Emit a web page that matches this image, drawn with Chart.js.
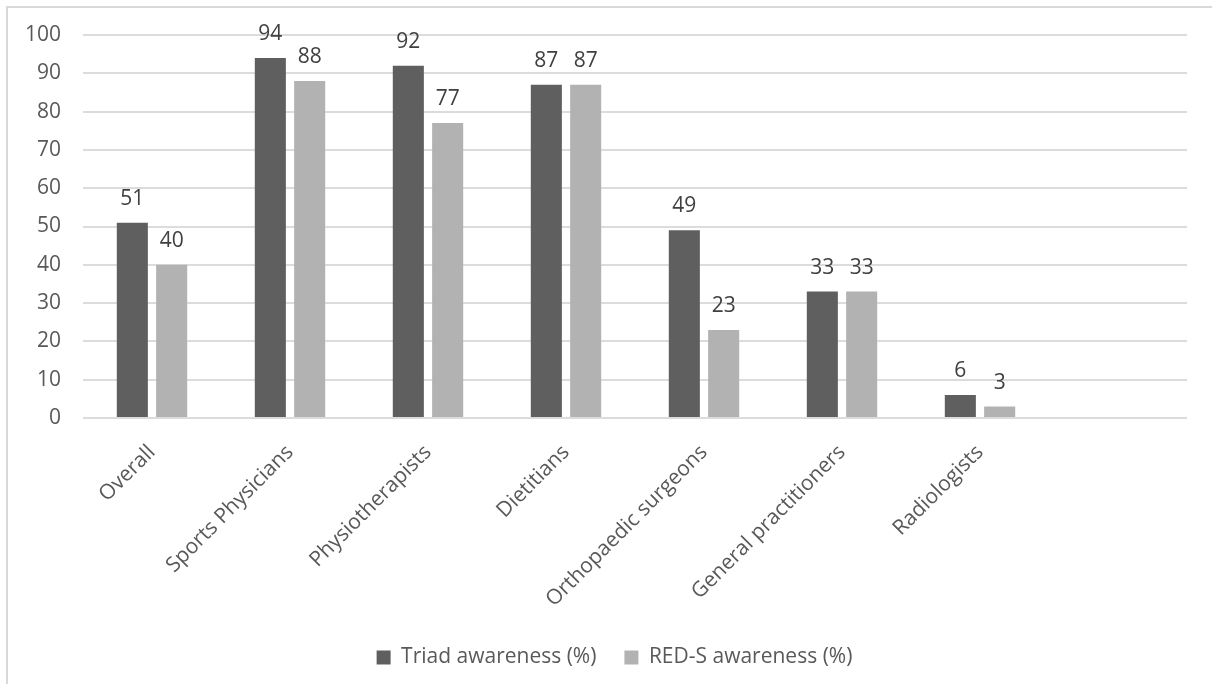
<!DOCTYPE html>
<html>
<head>
<meta charset="utf-8">
<script src="https://cdn.jsdelivr.net/npm/chart.js@4.4.1/dist/chart.umd.min.js"></script>
<style>
  html, body { margin: 0; padding: 0; background: #fff; overflow: hidden; }
  #wrap { position: relative; width: 1212px; height: 684px; }
  #frame { position: absolute; left: 6px; top: 6px; width: 1400px; height: 900px;
           border-left: 2px solid #d9d9d9; border-top: 2px solid #d9d9d9; box-sizing: border-box; }
  canvas { position: absolute; left: 0; top: 0; }
</style>
</head>
<body>
<div id="wrap">
  <div id="frame"></div>
  <canvas id="chart" width="1212" height="684"></canvas>
</div>
<script>
// Awareness of the Female Athlete Triad and RED-S by professional group
const categories = ['Overall', 'Sports Physicians', 'Physiotherapists', 'Dietitians',
  'Orthopaedic surgeons', 'General practitioners', 'Radiologists', ''];
const triadAwareness = [51, 94, 92, 87, 49, 33, 6, null];
const redsAwareness = [40, 88, 77, 87, 23, 33, 3, null];
const yTicks = [0, 10, 20, 30, 40, 50, 60, 70, 80, 90, 100];

const FONT = '"Open Sans", "Liberation Sans", sans-serif';
const TEXT = '#595959';

// Value labels above each bar
const valueLabels = {
  id: 'valueLabels',
  afterDatasetsDraw(chart) {
    const ctx = chart.ctx;
    ctx.save();
    ctx.font = '21px ' + FONT;
    ctx.fillStyle = '#404040';
    ctx.textAlign = 'center';
    ctx.textBaseline = 'alphabetic';
    chart.data.datasets.forEach((ds, i) => {
      const meta = chart.getDatasetMeta(i);
      meta.data.forEach((bar, j) => {
        const v = ds.data[j];
        if (v === null || v === undefined) return;
        ctx.fillText(String(v), bar.x, bar.y - 18);
      });
    });
    ctx.restore();
  }
};

// Nudge the legend block to the right
const legendShift = {
  id: 'legendShift',
  afterLayout(chart) {
    const l = chart.legend;
    if (l) { l.left += 21; l.right += 21; }
  }
};

new Chart(document.getElementById('chart'), {
  type: 'bar',
  data: {
    labels: categories,
    datasets: [
      { label: 'Triad awareness (%)', data: triadAwareness, backgroundColor: '#5f5f5f',
        barPercentage: 0.79, categoryPercentage: 0.57 },
      { label: 'RED-S awareness (%)', data: redsAwareness, backgroundColor: '#b2b2b2',
        barPercentage: 0.79, categoryPercentage: 0.57 }
    ]
  },
  options: {
    responsive: false,
    animation: false,
    layout: { padding: { top: 35, left: 0, right: 25, bottom: 6 } },
    plugins: {
      legend: {
        position: 'bottom',
        labels: {
          color: TEXT,
          font: { family: FONT, size: 21 },
          boxWidth: 14, boxHeight: 14, padding: 28
        }
      },
      tooltip: { enabled: false }
    },
    scales: {
      x: {
        grid: { display: false },
        border: { display: false },
        ticks: {
          color: TEXT, font: { family: FONT, size: 21 },
          minRotation: 45, maxRotation: 45, autoSkip: false, padding: 14
        },
        afterFit(s) { s.height = 201; }
      },
      y: {
        min: 0, max: 100,
        afterBuildTicks(s) { s.ticks = yTicks.map(v => ({ value: v })); },
        grid: { color: '#dcdcdc', lineWidth: 2, drawTicks: false },
        border: { display: false },
        ticks: { color: TEXT, font: { family: FONT, size: 21 }, padding: 22 },
        afterFit(s) { s.width = 83; }
      }
    }
  },
  plugins: [valueLabels, legendShift]
});
</script>
</body>
</html>
